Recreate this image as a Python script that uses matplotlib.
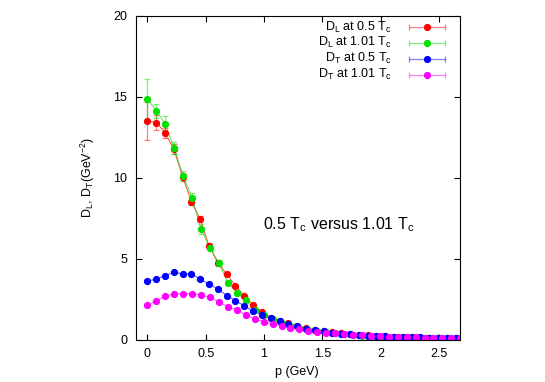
import matplotlib
matplotlib.use("Agg")
import matplotlib.pyplot as plt
from matplotlib.colors import to_rgba
from matplotlib.ticker import FormatStrFormatter

plt.rcParams['font.family'] = ['Liberation Sans', 'DejaVu Sans']
plt.rcParams['mathtext.default'] = 'regular'

# momentum values (GeV)
p_05 = [0.0, 0.076, 0.151, 0.227, 0.302, 0.378, 0.453, 0.529, 0.604, 0.680,
        0.755, 0.831, 0.906, 0.982, 1.057, 1.133, 1.208, 1.284, 1.359, 1.435,
        1.510, 1.586, 1.661, 1.737, 1.812, 1.888, 1.963, 2.039, 2.114, 2.190,
        2.265, 2.341, 2.416, 2.492, 2.567, 2.643]
p_101 = [0.0, 0.077, 0.153, 0.230, 0.307, 0.383, 0.460, 0.537, 0.613, 0.690,
         0.766, 0.843, 0.920, 0.996, 1.073, 1.150, 1.226, 1.303, 1.379, 1.456,
         1.533, 1.609, 1.686, 1.763, 1.839, 1.916, 1.992, 2.069, 2.146, 2.222,
         2.299, 2.376, 2.452, 2.529, 2.605, 2.682]

# D_L at 0.5 Tc
dl_05 = [13.5, 13.4, 12.78, 11.75, 10.06, 8.52, 7.43, 5.78, 4.75, 4.04,
         3.33, 2.70, 2.14, 1.73, 1.36, 1.17, 1.00, 0.84, 0.72, 0.62,
         0.53, 0.46, 0.40, 0.35, 0.30, 0.26, 0.23, 0.20, 0.18, 0.16,
         0.14, 0.12, 0.11, 0.10, 0.09, 0.08]
dl_05_err = [1.17, 0.45, 0.31, 0.30, 0.25, 0.22, 0.20, 0.18, 0.15, 0.12,
             0.10, 0.08, 0.07, 0.06, 0.05, 0.04, 0.04, 0.03, 0.03, 0.03,
             0.02, 0.02, 0.02, 0.02, 0.02, 0.02, 0.01, 0.01, 0.01, 0.01,
             0.01, 0.01, 0.01, 0.01, 0.01, 0.01]

# D_L at 1.01 Tc
dl_101 = [14.86, 14.12, 13.31, 11.81, 10.1, 8.77, 6.81, 5.68, 4.71, 3.52,
          2.90, 2.45, 1.83, 1.52, 1.25, 1.02, 0.85, 0.71, 0.60, 0.51,
          0.44, 0.38, 0.33, 0.29, 0.25, 0.22, 0.19, 0.17, 0.15, 0.13,
          0.12, 0.11, 0.10, 0.09, 0.08, 0.07]
dl_101_err = [1.25, 0.43, 0.47, 0.37, 0.30, 0.30, 0.30, 0.20, 0.18, 0.15,
              0.12, 0.10, 0.08, 0.07, 0.06, 0.05, 0.04, 0.04, 0.03, 0.03,
              0.02, 0.02, 0.02, 0.02, 0.02, 0.02, 0.01, 0.01, 0.01, 0.01,
              0.01, 0.01, 0.01, 0.01, 0.01, 0.01]

# D_T at 0.5 Tc
dt_05 = [3.62, 3.73, 3.95, 4.16, 4.06, 4.04, 3.75, 3.42, 3.13, 2.72,
         2.41, 2.08, 1.77, 1.52, 1.32, 1.15, 0.98, 0.82, 0.68, 0.58,
         0.50, 0.43, 0.37, 0.32, 0.28, 0.25, 0.22, 0.20, 0.18, 0.16,
         0.15, 0.13, 0.12, 0.11, 0.10, 0.09]
dt_05_err = [0.08, 0.06, 0.06, 0.05, 0.05, 0.05, 0.04, 0.04, 0.04, 0.03,
             0.03, 0.03, 0.02, 0.02, 0.02, 0.02, 0.02, 0.01, 0.01, 0.01,
             0.01, 0.01, 0.01, 0.01, 0.01, 0.01, 0.01, 0.01, 0.01, 0.01,
             0.01, 0.01, 0.01, 0.01, 0.01, 0.01]

# D_T at 1.01 Tc
dt_101 = [2.12, 2.41, 2.68, 2.82, 2.84, 2.84, 2.76, 2.62, 2.31, 2.04,
          1.83, 1.52, 1.28, 1.11, 0.97, 0.84, 0.73, 0.64, 0.56, 0.49,
          0.43, 0.38, 0.33, 0.29, 0.26, 0.23, 0.20, 0.18, 0.16, 0.14,
          0.13, 0.12, 0.11, 0.10, 0.09, 0.08]
dt_101_err = [0.06, 0.05, 0.05, 0.04, 0.04, 0.04, 0.04, 0.03, 0.03, 0.03,
              0.02, 0.02, 0.02, 0.02, 0.02, 0.01, 0.01, 0.01, 0.01, 0.01,
              0.01, 0.01, 0.01, 0.01, 0.01, 0.01, 0.01, 0.01, 0.01, 0.01,
              0.01, 0.01, 0.01, 0.01, 0.01, 0.01]

x_ticks = [0, 0.5, 1, 1.5, 2, 2.5]
y_ticks = [0, 5, 10, 15, 20]

series = [
    (p_05, dl_05, dl_05_err, '#ff0000', 'D$_L$ at 0.5 T$_c$'),
    (p_101, dl_101, dl_101_err, '#00e000', 'D$_L$ at 1.01 T$_c$'),
    (p_05, dt_05, dt_05_err, '#0000ff', 'D$_T$ at 0.5 T$_c$'),
    (p_101, dt_101, dt_101_err, '#ff00ff', 'D$_T$ at 1.01 T$_c$'),
]

fig = plt.figure(figsize=(5.45, 3.82), dpi=100)
ax = fig.add_axes([0.249, 0.111, 0.595, 0.848])

for i, (x, y, e, c, lab) in enumerate(series):
    light = to_rgba(c, 0.5)
    ax.plot(x, y, '-', color=c, lw=0.7, alpha=0.7)
    ax.errorbar(x, y, yerr=e, fmt='o', color=c, ms=4.2, ecolor=light,
                elinewidth=0.9, capsize=2.5, capthick=0.9)
    # gnuplot-style key: right aligned text, sample with horizontal bar
    ky = 0.965 - i * 0.049
    ax.text(0.79, ky, lab, transform=ax.transAxes, fontsize=9,
            ha='right', va='center')
    ax.errorbar([0.898], [ky], xerr=[0.055], fmt='o', color=c, ms=4.2,
                ecolor=light, elinewidth=0.9, capsize=2.5, capthick=0.9,
                transform=ax.transAxes, clip_on=False)

ax.set_xlim(-0.1, 2.68)
ax.set_ylim(0, 20)
ax.set_xticks(x_ticks)
ax.set_yticks(y_ticks)
ax.xaxis.set_major_formatter(FormatStrFormatter('%g'))
ax.tick_params(direction='in', top=True, right=True, length=4, labelsize=9,
               pad=6)

ax.set_xlabel('p (GeV)', fontsize=9)
ax.set_ylabel('D$_L$, D$_T$(GeV$^{-2}$)', fontsize=9)
ax.xaxis.set_label_coords(0.497, -0.083)
ax.yaxis.set_label_coords(-0.118, 0.5)

ax.text(0.99, 7.1, '0.5 T$_c$ versus 1.01 T$_c$', fontsize=11.5,
        ha='left', va='center')

fig.savefig('out.png', dpi=100)
